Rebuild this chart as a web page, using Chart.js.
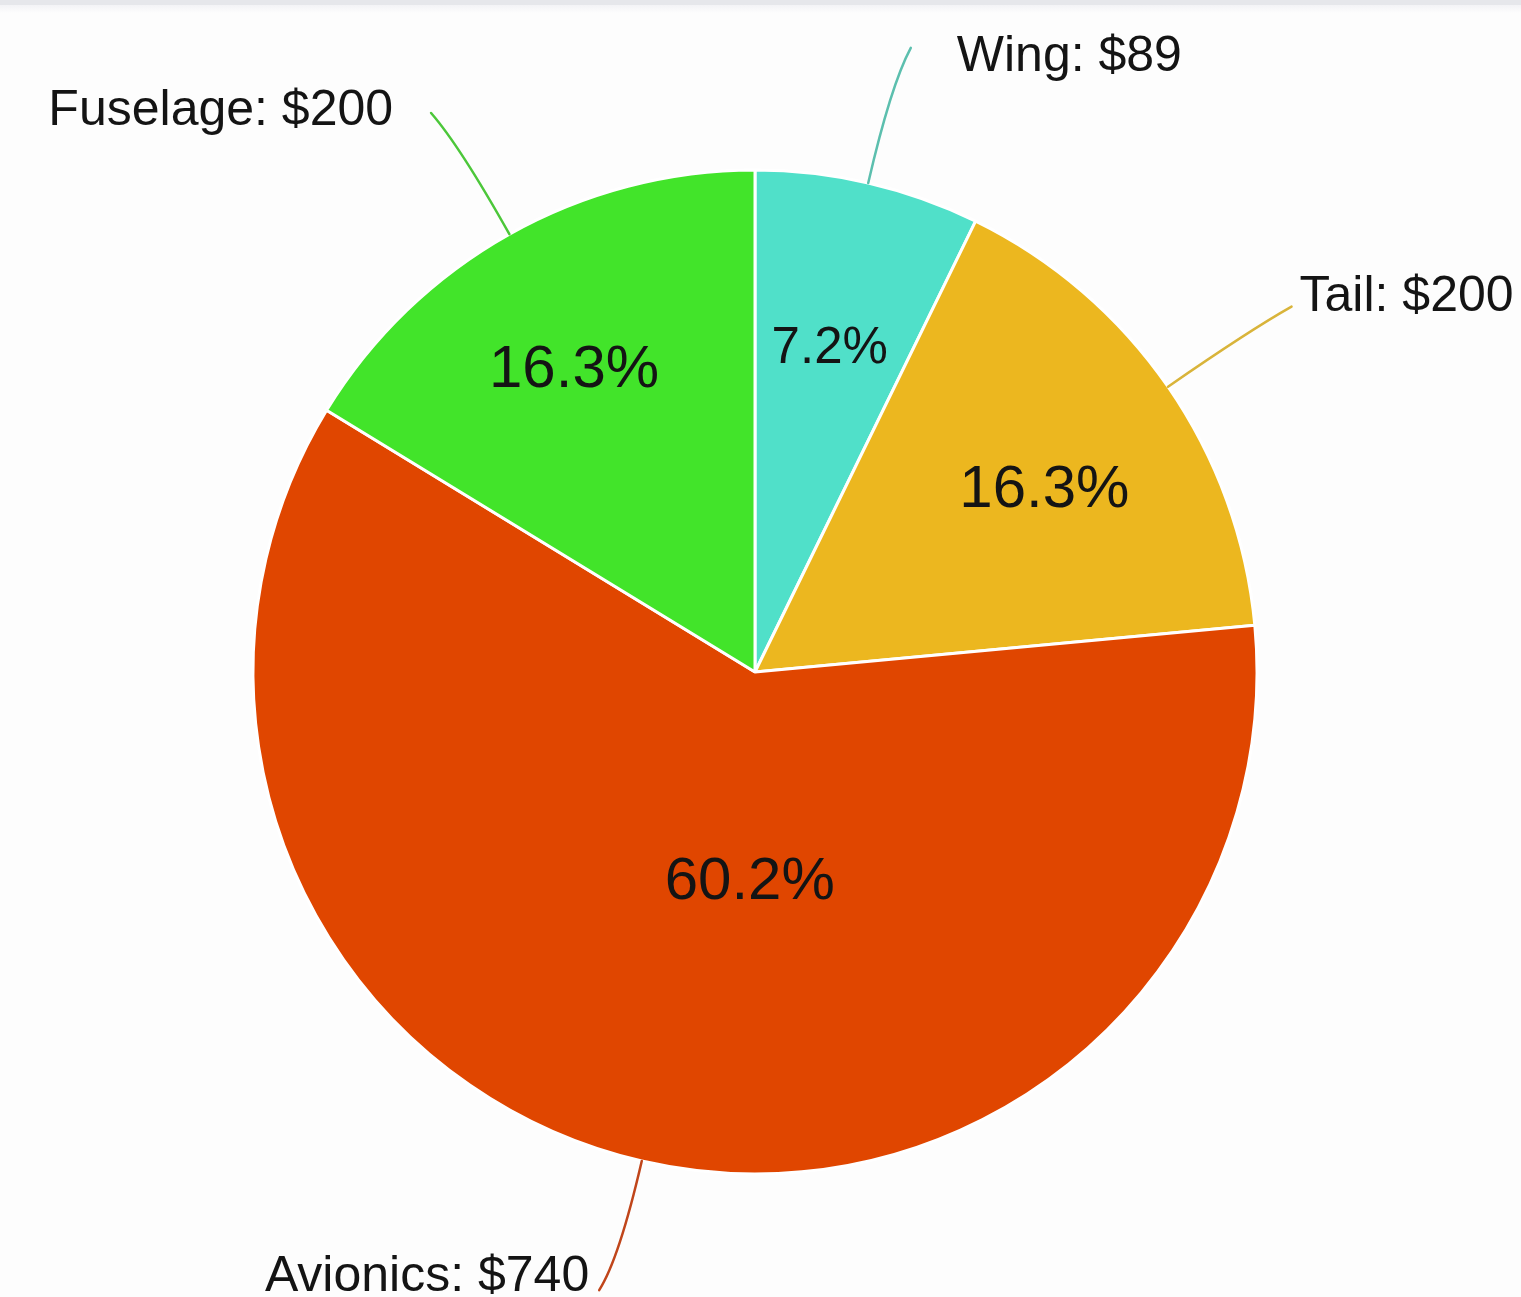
<!DOCTYPE html>
<html>
<head>
<meta charset="utf-8">
<script src="https://cdn.jsdelivr.net/npm/chart.js@4.4.1/dist/chart.umd.min.js"></script>
<style>
    html, body { margin: 0; padding: 0; background: #fdfdfd; overflow: hidden; }
    #topBar { position: absolute; left: 0; top: 0; width: 1521px; height: 5px; background: #e6e7eb; }
    #topShade { position: absolute; left: 0; top: 5px; width: 1521px; height: 8px; background: linear-gradient(#f3f3f6, #fdfdfd); }
    canvas { display: block; }
</style>
</head>
<body>
<div id="topBar"></div>
<div id="topShade"></div>
<canvas id="costPie" width="1521" height="1297"></canvas>
<script>
// slices, clockwise from 12 o'clock
const parts = ['Wing', 'Tail', 'Avionics', 'Fuselage'];
const costs = [89, 200, 740, 200];
const sliceColors = ['#50e0c9', '#ecb71f', '#e04600', '#42e42a'];
const leaderColors = ['#5cbfae', '#d9b43a', '#c0451a', '#4cc73a'];

// draws the % inside each slice and the "Name: $x" callouts outside
const pieLabels = {
    id: 'pieLabels',
    afterDatasetsDraw(chart, args, opts) {
        const ctx = chart.ctx;
        const arcs = chart.getDatasetMeta(0).data;
        const total = costs.reduce((a, b) => a + b, 0);

        ctx.save();
        arcs.forEach((arc, i) => {
            const { x, y, startAngle, endAngle, outerRadius } = arc.getProps(['x', 'y', 'startAngle', 'endAngle', 'outerRadius'], true);
            const mid = (startAngle + endAngle) / 2;
            const cos = Math.cos(mid), sin = Math.sin(mid);

            // percentage inside
            const pct = (costs[i] / total * 100).toFixed(1) + '%';
            const ri = outerRadius * opts.insideRadius[i];
            const a = mid + opts.insideTurn[i] * Math.PI / 180;
            ctx.fillStyle = '#141414';
            ctx.font = opts.insideFont[i] + 'px "Liberation Sans", Arial, sans-serif';
            ctx.textAlign = 'center';
            ctx.textBaseline = 'middle';
            ctx.fillText(pct, x + Math.cos(a) * ri, y + Math.sin(a) * ri);

            // leader line
            const right = cos >= 0;
            const dir = right ? 1 : -1;
            const p0 = { x: x + cos * outerRadius, y: y + sin * outerRadius };
            const p1 = { x: x + cos * outerRadius * 1.2, y: y + sin * outerRadius * 1.2 };
            const p2 = { x: x + cos * outerRadius * 1.27 + dir * 12, y: y + sin * outerRadius * 1.27 - 3 };
            ctx.strokeStyle = leaderColors[i];
            ctx.lineWidth = 2.5;
            ctx.lineCap = 'round';
            ctx.beginPath();
            ctx.moveTo(p0.x, p0.y);
            ctx.quadraticCurveTo(p1.x, p1.y, p2.x, p2.y);
            ctx.stroke();

            // callout text
            const off = opts.textOffset[i];
            ctx.fillStyle = '#141414';
            ctx.font = '50px "Liberation Sans", Arial, sans-serif';
            ctx.textAlign = right ? 'left' : 'right';
            ctx.fillText(parts[i] + ': $' + costs[i], p2.x + dir * off[0], p2.y + off[1]);
        });
        ctx.restore();
    }
};

new Chart(document.getElementById('costPie').getContext('2d'), {
    type: 'pie',
    data: {
        labels: parts,
        datasets: [{
            data: costs,
            backgroundColor: sliceColors,
            borderColor: '#ffffff',
            borderWidth: 3
        }]
    },
    options: {
        responsive: false,
        animation: false,
        layout: {
            padding: { left: 251.5, right: 262.5, top: 168.5, bottom: 121.5 }
        },
        plugins: {
            legend: { display: false },
            tooltip: { enabled: false },
            pieLabels: {
                insideRadius: [0.66, 0.68, 0.42, 0.70],
                insideTurn: [0, 2.6, -11.6, -1.7],
                insideFont: [51, 60, 60, 60],
                textOffset: [[46, 9], [8, -9], [10, -13], [38, -2]]
            }
        }
    },
    plugins: [pieLabels]
});
</script>
</body>
</html>
